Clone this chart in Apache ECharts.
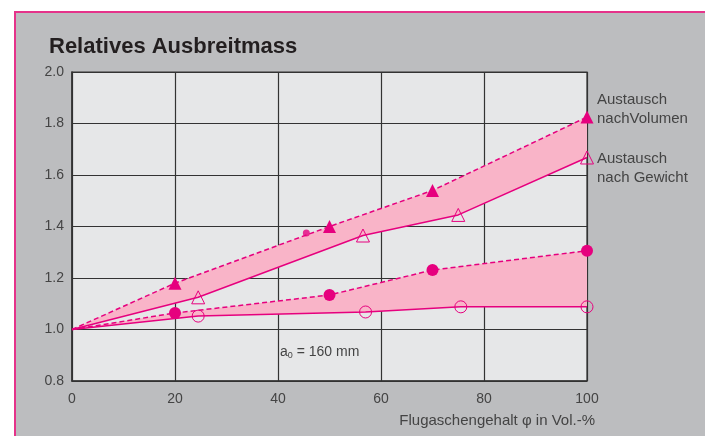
<!DOCTYPE html>
<html><head><meta charset="utf-8">
<script src="https://cdn.jsdelivr.net/npm/echarts@6/dist/echarts.min.js"></script>
<style>
html,body{margin:0;padding:0;background:#fff;}
#bg{position:absolute;left:14px;top:11px;right:0;bottom:0;background:#bcbdbf;border-left:2px solid #e5338a;border-top:2px solid #e5338a;}
#c{position:absolute;left:0;top:0;width:705px;height:436px;}
</style></head><body>
<div id="bg"></div>
<div id="c"></div>
<script>
// Austausch nach Volumen (filled triangles) / nach Gewicht (open triangles)
const triVolX = [0, 20, 50, 70, 100];
const triVolY = [1.0, 1.18, 1.40, 1.54, 1.825];
const triGewX = [0, 24.5, 56.5, 75, 100];
const triGewY = [1.0, 1.125, 1.365, 1.445, 1.668];
// circles (filled = Volumen, open = Gewicht)
const cirVolX = [0, 20, 50, 70, 100];
const cirVolY = [1.0, 1.064, 1.134, 1.231, 1.306];
const cirGewX = [0, 24.5, 57, 75.5, 100];
const cirGewY = [1.0, 1.052, 1.068, 1.088, 1.088];
const extraX = [45.5];
const extraY = [1.375];
const xTicks = [0, 20, 40, 60, 80, 100];
const yTicks = [0.8, 1.0, 1.2, 1.4, 1.6, 1.8, 2.0];

const MAG = '#e6007e';
const PINK = '#f9b4c8';
const FONT = 'Liberation Sans, Arial, sans-serif';
const zip = (xs, ys) => xs.map((x, i) => [x, ys[i]]);

function bandSeries(upX, upY, loX, loY) {
  const up = zip(upX, upY), lo = zip(loX, loY);
  return {
    type: 'custom', z: 1, silent: true,
    data: [0],
    renderItem: function (params, api) {
      const pts = up.map(p => api.coord(p)).concat(lo.slice().reverse().map(p => api.coord(p)));
      return { type: 'polygon', shape: { points: pts }, style: { fill: PINK } };
    }
  };
}

const chart = echarts.init(document.getElementById('c'));
chart.setOption({
  animation: false,
  backgroundColor: 'transparent',
  title: {
    text: 'Relatives Ausbreitmass', left: 44, top: 31,
    textStyle: { fontFamily: FONT, fontSize: 22, fontWeight: 'bold', color: '#231f20' }
  },
  grid: { left: 72, top: 72, right: 118, bottom: 55, show: true, backgroundColor: '#e6e7e8', borderColor: '#333', borderWidth: 1.2 },
  xAxis: {
    type: 'value', min: 0, max: 100, interval: 20,
    axisLine: { show: true, lineStyle: { color: '#333', width: 1.5 } },
    axisTick: { show: false },
    splitLine: { show: true, lineStyle: { color: '#333', width: 1.2 } },
    axisLabel: { margin: 11, color: '#444', fontSize: 14, fontFamily: FONT }
  },
  yAxis: {
    type: 'value', min: 0.8, max: 2.0, interval: 0.2,
    axisLine: { show: true, lineStyle: { color: '#333', width: 1.5 } },
    axisTick: { show: false },
    splitLine: { show: true, lineStyle: { color: '#333', width: 1.2 } },
    axisLabel: { margin: 8, color: '#444', fontSize: 14, fontFamily: FONT, formatter: v => v.toFixed(1) }
  },
  graphic: [
    { type: 'text', left: 597, top: 90, style: { text: 'Austausch\nnachVolumen', fill: '#444', font: '15px ' + FONT, lineHeight: 19 } },
    { type: 'text', left: 597, top: 149, style: { text: 'Austausch\nnach Gewicht', fill: '#444', font: '15px ' + FONT, lineHeight: 19 } },
    { type: 'text', right: 110, top: 413, style: { text: 'Flugaschengehalt φ in Vol.-%', fill: '#444', font: '15px ' + FONT } },
    { type: 'text', left: 280, top: 345, style: {
      text: '{a|a}{s|0}{a| = 160 mm}',
      rich: { a: { fontSize: 14, fill: '#444', fontFamily: FONT }, s: { fontSize: 9, fill: '#444', padding: [8, 0, 0, 0], fontFamily: FONT } }
    } }
  ],
  series: [
    bandSeries(triVolX, triVolY, triGewX, triGewY),
    bandSeries(cirVolX, cirVolY, cirGewX, cirGewY),
    { type: 'line', z: 3, data: zip(triVolX, triVolY), lineStyle: { color: MAG, width: 1.5, type: [5, 3] },
      symbol: 'triangle', itemStyle: { color: MAG },
      symbolSize: (v, p) => p.dataIndex === 0 ? 0 : 13 },
    { type: 'line', z: 3, data: zip(triGewX, triGewY), lineStyle: { color: MAG, width: 1.5 },
      symbol: 'triangle', itemStyle: { color: 'rgba(0,0,0,0)', borderColor: MAG, borderWidth: 1 },
      symbolSize: (v, p) => p.dataIndex === 0 ? 0 : 13 },
    { type: 'line', z: 3, data: zip(cirVolX, cirVolY), lineStyle: { color: MAG, width: 1.5, type: [5, 3] },
      symbol: 'circle', itemStyle: { color: MAG },
      symbolSize: (v, p) => p.dataIndex === 0 ? 0 : 12 },
    { type: 'line', z: 3, data: zip(cirGewX, cirGewY), lineStyle: { color: MAG, width: 1.5 },
      symbol: 'circle', itemStyle: { color: 'rgba(0,0,0,0)', borderColor: MAG, borderWidth: 1 },
      symbolSize: (v, p) => p.dataIndex === 0 ? 0 : 12 },
    { type: 'scatter', z: 4, data: zip(extraX, extraY), symbol: 'circle', symbolSize: 7, itemStyle: { color: MAG } }
  ]
});
</script>
</body></html>
